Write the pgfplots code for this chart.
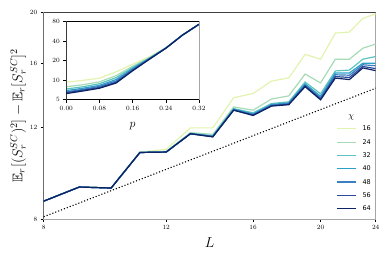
\documentclass[border=0pt]{standalone}
\usepackage{fontspec}
\usepackage{amssymb}
\usepackage{pgfplots}
\pgfplotsset{compat=1.18}
\newfontfamily\dejavu{DejaVu Sans}
\definecolor{c16}{HTML}{E2F3B0}
\definecolor{c24}{HTML}{A6DBB6}
\definecolor{c32}{HTML}{5EC3C0}
\definecolor{c40}{HTML}{2DA0C8}
\definecolor{c48}{HTML}{3A7FC0}
\definecolor{c56}{HTML}{2B4A9E}
\definecolor{c64}{HTML}{0C2466}

\pgfplotstableread{
L c16 c24 c32 c40 c48 c56 c64
8  8.66 8.66 8.66 8.66 8.66 8.66 8.66
9  9.22 9.22 9.22 9.22 9.22 9.22 9.22
10 9.20 9.18 9.18 9.18 9.18 9.18 9.18
11 10.77 10.76 10.75 10.75 10.75 10.75 10.75
12 10.90 10.80 10.78 10.77 10.77 10.77 10.77
13 11.99 11.74 11.70 11.69 11.69 11.68 11.68
14 11.99 11.65 11.58 11.56 11.54 11.53 11.52
15 13.71 13.16 13.06 13.03 13.00 12.98 12.97
16 13.97 12.97 12.82 12.76 12.72 12.69 12.67
17 14.76 13.63 13.36 13.30 13.26 13.23 13.21
18 14.97 13.82 13.46 13.40 13.35 13.32 13.29
19 16.62 15.23 14.70 14.58 14.50 14.45 14.40
20 16.27 14.64 13.95 13.80 13.70 13.64 13.58
21 18.27 16.27 15.44 15.30 15.18 15.06 14.96
22 18.35 16.27 15.50 15.30 15.15 15.00 14.86
23 19.50 17.08 16.27 15.98 15.87 15.75 15.65
24 19.89 17.40 16.46 15.98 15.80 15.60 15.46
}\maindata

\pgfplotstableread{
p c16 c24 c32 c40 c48 c56 c64
0.00 9.3 7.9 7.3 6.9 6.6 6.4 6.2
0.04 9.9 8.5 7.9 7.5 7.2 7.0 6.8
0.08 10.7 9.4 8.8 8.3 8.0 7.7 7.5
0.12 13.4 11.7 10.9 10.2 9.7 9.3 9.0
0.16 17.5 16.3 15.6 15.0 14.6 14.2 13.9
0.20 22.8 22.0 21.7 21.4 21.2 21.0 20.8
0.24 31.2 31.1 31.1 31.0 31.0 30.9 30.8
0.28 49 49 49 49 49 49 49
0.32 72 72 72 72 72 72 72
}\insetdata

\pgfplotsset{
  myframe/.style={
    axis line style={draw=gray!70, line width=0.6bp},
    tick align=outside, tick pos=left,
    major tick length=3bp,
    every tick/.style={black, line width=0.5bp},
    tick label style={font=\fontsize{6.5}{7}\selectfont},
    scale only axis,
    minor tick num=0,
  },
  ln/.style={line width=1.2bp, mark=none},
}

\begin{document}
\begin{tikzpicture}
\useasboundingbox (0bp,0bp) rectangle (390bp,260bp);
\begin{axis}[myframe,
  at={(43.7bp,41bp)}, anchor=south west,
  width=332bp, height=206.3bp,
  xmode=log, ymode=log,
  xmin=8, xmax=24, ymin=8, ymax=20,
  xtick={8,12,16,20,24}, xticklabels={8,12,16,20,24},
  ytick={8,12,16,20}, yticklabels={8,12,16,20},
  minor xtick={}, minor ytick={},
  xlabel={$L$},
  xlabel style={font=\fontsize{14}{14}\selectfont, at={(axis description cs:0.5,-0.14)}, anchor=base},
  ylabel={$\mathbb{E}_r[(S_r^{SC})^2]-\mathbb{E}_r[S_r^{SC}]^2$},
  ylabel style={font=\fontsize{14}{14}\selectfont, at={(axis description cs:-0.077,0.5)}, anchor=center},
  legend style={draw=none, fill=none, at={(0.872,0.462)}, anchor=north west,
    font=\dejavu\fontsize{6.5}{7}\selectfont,
    nodes={inner sep=0pt, text height=5bp, text depth=1bp},
    row sep=7.3bp, column sep=6bp},
  legend cell align=left,
  legend image code/.code={\draw[#1] (0bp,0bp) -- (19bp,0bp);},
]
\addplot[ln, c16] table[x=L, y=c16] {\maindata}; \addlegendentry{16}
\addplot[ln, c24] table[x=L, y=c24] {\maindata}; \addlegendentry{24}
\addplot[ln, c32] table[x=L, y=c32] {\maindata}; \addlegendentry{32}
\addplot[ln, c40] table[x=L, y=c40] {\maindata}; \addlegendentry{40}
\addplot[ln, c48] table[x=L, y=c48] {\maindata}; \addlegendentry{48}
\addplot[ln, c56] table[x=L, y=c56] {\maindata}; \addlegendentry{56}
\addplot[ln, c64] table[x=L, y=c64] {\maindata}; \addlegendentry{64}
\addplot[black, dotted, line width=1.1bp, forget plot] coordinates {(8,8.08) (24,14.3)};
\draw[black, line width=0.7bp] (rel axis cs:0,1) -- (rel axis cs:0,0) -- (rel axis cs:1,0);
\draw[black!75, line width=0.7bp] (rel axis cs:0,1) -- (rel axis cs:1,1);
\node[font=\fontsize{9}{9}\selectfont] at (rel axis cs:0.926,0.494) {$\chi$};
\end{axis}

\begin{axis}[myframe,
  at={(66.3bp,160.3bp)}, anchor=south west,
  width=132.7bp, height=78.4bp,
  axis background/.style={fill=white},
  ymode=log,
  xmin=0, xmax=0.32, ymin=5, ymax=80,
  xtick={0,0.08,0.16,0.24,0.32},
  xticklabels={0.00,0.08,0.16,0.24,0.32},
  ytick={5,10,20,40,80}, yticklabels={5,10,20,40,80},
  minor ytick={},
  xlabel={$p$},
  xlabel style={font=\fontsize{13}{13}\selectfont, at={(axis description cs:0.5,-0.35)}, anchor=base},
]
\addplot[ln, c16] table[x=p, y=c16] {\insetdata};
\addplot[ln, c24] table[x=p, y=c24] {\insetdata};
\addplot[ln, c32] table[x=p, y=c32] {\insetdata};
\addplot[ln, c40] table[x=p, y=c40] {\insetdata};
\addplot[ln, c48] table[x=p, y=c48] {\insetdata};
\addplot[ln, c56] table[x=p, y=c56] {\insetdata};
\addplot[ln, c64] table[x=p, y=c64] {\insetdata};
\draw[black, line width=0.7bp] (rel axis cs:1,1) -- (rel axis cs:0,1) -- (rel axis cs:0,0) -- (rel axis cs:1,0);
\end{axis}
\end{tikzpicture}
\end{document}
